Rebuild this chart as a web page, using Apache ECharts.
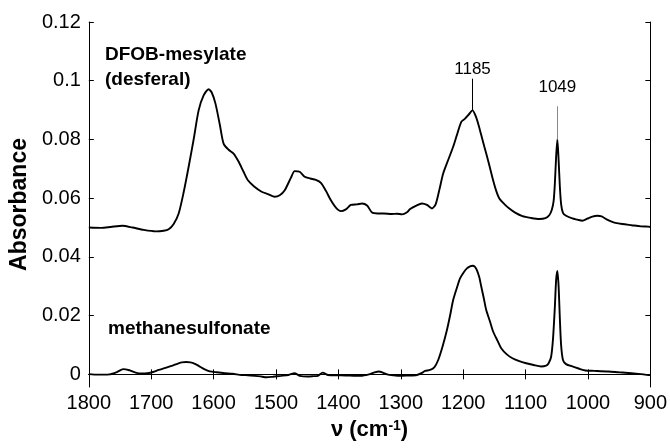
<!DOCTYPE html>
<html>
<head>
<meta charset="utf-8">
<script src="https://cdn.jsdelivr.net/npm/echarts@6/dist/echarts.min.js"></script>
<style>html,body{margin:0;padding:0;background:#fff}#chart{width:670px;height:448px}</style>
</head>
<body>
<div id="chart"></div>
<script>
// Wavenumbers (cm-1) and absorbance for DFOB-mesylate (desferal)
var dfobWavenumbers = [1800,1780,1765,1746,1730,1712,1693,1680,1672,1664,1656,1648,1640,1632,1624,1616,1608,1603,1597,1590,1584,1576,1568,1560,1552,1545,1535,1523,1512,1502,1494,1486,1476,1470,1462,1454,1445,1436,1428,1420,1412,1404,1396,1388,1380,1370,1362,1354,1346,1337,1327,1315,1306,1298,1290,1285,1275,1266,1258,1250,1244,1238,1232,1224,1216,1210,1203,1197,1191,1185,1180,1176,1171,1166,1159,1152,1147,1142,1134,1126,1116,1105,1092,1078,1068,1062,1058,1055,1053,1051,1049,1047,1045,1043,1040,1035,1025,1017,1009,1001,993,985,978,970,962,956,945,930,915,903,900];
var dfobAbsorbance = [0.0500,0.0499,0.0502,0.0506,0.0500,0.0492,0.0487,0.0489,0.0494,0.0512,0.0548,0.0620,0.0707,0.0800,0.0899,0.0950,0.0971,0.0960,0.0922,0.0850,0.0786,0.0765,0.0752,0.0725,0.0690,0.0661,0.0640,0.0622,0.0613,0.0605,0.0610,0.0627,0.0670,0.0692,0.0690,0.0673,0.0667,0.0662,0.0652,0.0625,0.0593,0.0568,0.0556,0.0562,0.0577,0.0579,0.0582,0.0575,0.0551,0.0548,0.0548,0.0546,0.0547,0.0545,0.0552,0.0563,0.0575,0.0582,0.0577,0.0565,0.0580,0.0630,0.0684,0.0730,0.0775,0.0815,0.0860,0.0871,0.0885,0.0899,0.0880,0.0854,0.0815,0.0775,0.0720,0.0661,0.0625,0.0599,0.0580,0.0565,0.0550,0.0539,0.0533,0.0529,0.0532,0.0542,0.0560,0.0590,0.0650,0.0740,0.0800,0.0730,0.0640,0.0580,0.0550,0.0540,0.0531,0.0527,0.0523,0.0530,0.0537,0.0540,0.0538,0.0528,0.0520,0.0516,0.0512,0.0508,0.0504,0.0503,0.0502];

// Wavenumbers (cm-1) and absorbance for methanesulfonate
var msWavenumbers = [1800,1785,1767,1755,1745,1735,1725,1715,1706,1697,1688,1677,1666,1658,1651,1644,1637,1630,1624,1615,1606,1595,1582,1570,1555,1545,1534,1525,1515,1505,1492,1480,1470,1466,1462,1449,1440,1433,1425,1420,1417,1405,1396,1385,1372,1364,1351,1343,1335,1328,1322,1312,1301,1290,1274,1266,1261,1253,1246,1240,1233,1226,1221,1216,1210,1205,1199,1194,1189,1185,1181,1178,1174,1171,1167,1163,1157,1152,1145,1139,1130,1121,1110,1099,1087,1075,1067,1063,1059,1056,1053,1051,1049,1047,1045,1043,1040,1035,1025,1015,1004,990,967,950,930,915,903,900];
var msAbsorbance = [0.0001,-0.0001,0.0000,0.0008,0.0018,0.0014,0.0006,0.0003,0.0004,0.0008,0.0015,0.0022,0.0030,0.0036,0.0041,0.0042,0.0041,0.0036,0.0029,0.0018,0.0010,0.0007,0.0004,0.0002,-0.0002,-0.0003,-0.0005,-0.0007,-0.0010,-0.0008,-0.0005,-0.0002,0.0004,0.0000,-0.0005,-0.0007,-0.0006,-0.0005,0.0006,0.0001,-0.0002,-0.0003,-0.0003,-0.0004,-0.0005,-0.0005,0.0000,0.0006,0.0010,0.0005,0.0000,-0.0003,-0.0005,-0.0004,-0.0002,0.0005,0.0012,0.0015,0.0025,0.0049,0.0095,0.0151,0.0200,0.0253,0.0295,0.0327,0.0348,0.0361,0.0368,0.0370,0.0366,0.0355,0.0330,0.0299,0.0260,0.0219,0.0180,0.0146,0.0115,0.0089,0.0068,0.0055,0.0045,0.0038,0.0032,0.0027,0.0030,0.0038,0.0060,0.0120,0.0230,0.0320,0.0352,0.0300,0.0190,0.0100,0.0049,0.0035,0.0027,0.0020,0.0013,0.0012,0.0010,0.0007,0.0004,0.0001,-0.0002,-0.0002];

// Axis ticks
var xTicks = [1800,1700,1600,1500,1400,1300,1200,1100,1000,900];
var yTicks = [0,0.02,0.04,0.06,0.08,0.1,0.12];

// Peak annotations: position, line bottom, line top
var peakLabels = ['1185','1049'];
var peakPositions = [1185,1049];
var peakLineBottoms = [0.0899,0.0800];
var peakLineTops = [0.1007,0.0913];

var seriesNames = ['DFOB-mesylate (desferal)','methanesulfonate'];

function pairs(xs, ys){ var out=[]; for(var i=0;i<xs.length;i++){ out.push([xs[i], ys[i]]); } return out; }

var FONT = '"Liberation Sans", Arial, Helvetica, sans-serif';
var chart = echarts.init(document.getElementById('chart'), null, {renderer:'canvas'});

var axisLineStyle = {show:true, lineStyle:{color:'#000', width:1}};
var tickStyle = {show:true, inside:true, length:5, lineStyle:{color:'#000', width:1}};

var option = {
  animation:false,
  backgroundColor:'#fff',
  grid:{left:86, right:18, top:22, bottom:61},
  xAxis:[{
    type:'value', inverse:true, min:xTicks[xTicks.length-1], max:xTicks[0], interval:100,
    position:'bottom',
    axisLine:axisLineStyle, axisTick:tickStyle, splitLine:{show:false},
    axisLabel:{color:'#000', fontSize:20, fontFamily:FONT, margin:6, formatter:function(v){ return String(v); }},
    name:'{a|ν (cm}{s|-1}{a|)}', nameLocation:'middle', nameGap:32,
    nameTextStyle:{rich:{
      a:{fontSize:22, fontWeight:'bold', fontFamily:FONT, color:'#000', verticalAlign:'bottom'},
      s:{fontSize:14, fontWeight:'bold', fontFamily:FONT, color:'#000', verticalAlign:'top'}
    }}
  },{
    type:'value', inverse:true, min:xTicks[xTicks.length-1], max:xTicks[0], interval:100,
    position:'top',
    axisLine:axisLineStyle, axisTick:tickStyle, splitLine:{show:false}, axisLabel:{show:false}
  }],
  yAxis:[{
    type:'value', min:-0.0043, max:yTicks[yTicks.length-1], position:'left',
    axisLine:axisLineStyle, splitLine:{show:false},
    axisTick:{show:true, inside:true, length:5, lineStyle:{color:'#000', width:1}, customValues:yTicks},
    axisLabel:{color:'#000', fontSize:20, fontFamily:FONT, margin:8, customValues:yTicks,
      formatter:function(v){ return String(+v.toFixed(2)); }},
    name:'Absorbance', nameLocation:'middle', nameGap:49,
    nameTextStyle:{fontSize:23, fontWeight:'bold', fontFamily:FONT, color:'#000'}
  },{
    type:'value', min:-0.0043, max:yTicks[yTicks.length-1], position:'right',
    axisLine:axisLineStyle, splitLine:{show:false},
    axisTick:{show:true, inside:true, length:5, lineStyle:{color:'#000', width:1}, customValues:yTicks},
    axisLabel:{show:false}
  }],
  series:[{
    name:seriesNames[0], type:'line', xAxisIndex:0, yAxisIndex:0,
    data:pairs(dfobWavenumbers, dfobAbsorbance), showSymbol:false, symbol:'none',
    smooth:0.25,
    lineStyle:{color:'#000', width:1.9}, z:3,
    markLine:{
      silent:true, symbol:['none','none'], animation:false,
      data:[
        [{coord:[peakPositions[0], peakLineBottoms[0]], lineStyle:{color:'#000', width:1, type:'solid'},
          label:{show:true, position:'end', formatter:peakLabels[0], color:'#000', fontSize:17, fontFamily:FONT, distance:1}},
         {coord:[peakPositions[0], peakLineTops[0]]}],
        [{coord:[peakPositions[1], peakLineBottoms[1]], lineStyle:{color:'#888', width:1, type:'solid'},
          label:{show:true, position:'end', formatter:peakLabels[1], color:'#000', fontSize:17, fontFamily:FONT, distance:10}},
         {coord:[peakPositions[1], peakLineTops[1]]}]
      ]
    }
  },{
    name:seriesNames[1], type:'line', xAxisIndex:0, yAxisIndex:0,
    data:pairs(msWavenumbers, msAbsorbance), showSymbol:false, symbol:'none',
    smooth:0.25,
    lineStyle:{color:'#000', width:1.9}, z:3
  }],
  graphic:[
    {type:'text', left:105, top:45, style:{text:'DFOB-mesylate', fontSize:19, fontWeight:'bold', fontFamily:FONT, fill:'#000'}},
    {type:'text', left:105, top:70, style:{text:'(desferal)', fontSize:19, fontWeight:'bold', fontFamily:FONT, fill:'#000'}},
    {type:'text', left:108, top:319, style:{text:'methanesulfonate', fontSize:19, fontWeight:'bold', fontFamily:FONT, fill:'#000'}}
  ]
};
chart.setOption(option);
</script>
</body>
</html>
